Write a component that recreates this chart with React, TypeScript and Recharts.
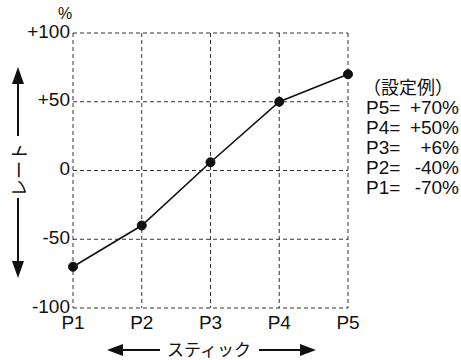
import React from "react";
import { LineChart, Line, XAxis, YAxis, CartesianGrid } from "recharts";

const categories = ["P1", "P2", "P3", "P4", "P5"];
const rates = [-70, -40, 6, 50, 70];
const yTicks = [-100, -50, 0, 50, 100];
const yTickLabels = ["-100", "-50", "0", "+50", "+100"];
const legendTitle = "（設定例）";
const xTitle = "スティック";
const yTitle = "レート";
const unitLabel = "%";

const data = categories.map((c, i) => ({ name: c, rate: rates[i] }));

const FONT = "'Liberation Sans', Arial, Helvetica, sans-serif";
const JP = "'Noto Sans CJK JP', sans-serif";

const fmtVal = (v: number) => (v > 0 ? "+" + v : String(v)) + "%";

export default function App() {
  return (
    <div style={{ position: "absolute", left: 0, top: 0, width: 461, height: 360, background: "#fff" }}>
      <LineChart
        width={461}
        height={360}
        data={data}
        margin={{ top: 33, right: 113, bottom: 22, left: 0 }}
      >
        <CartesianGrid strokeDasharray="4 3" stroke="#333" strokeWidth={1} />
        <XAxis
          dataKey="name"
          height={30}
          axisLine={false}
          tickLine={false}
          tickSize={0}
          tickMargin={8}
          interval={0}
          tick={{ fill: "#111", fontSize: 19, fontFamily: FONT }}
        />
        <YAxis
          type="number"
          domain={[-100, 100]}
          ticks={yTicks}
          width={73}
          axisLine={false}
          tickLine={false}
          tickSize={0}
          tickMargin={3}
          interval={0}
          tickFormatter={(v: number) => yTickLabels[yTicks.indexOf(v)]}
          tick={{ fill: "#111", fontSize: 19, fontFamily: FONT, dy: -2 }}
        />
        <Line
          type="linear"
          dataKey="rate"
          stroke="#111"
          strokeWidth={1.6}
          dot={{ r: 4.5, fill: "#111", stroke: "#111", strokeWidth: 1 }}
          isAnimationActive={false}
        />
      </LineChart>
      <svg
        width={461}
        height={360}
        style={{ position: "absolute", left: 0, top: 0, pointerEvents: "none" }}
      >
        <text x={65} y={19} textAnchor="middle" fontSize={16} fontFamily={FONT} fill="#111">
          {unitLabel}
        </text>
        <text x={363} y={94} fontSize={18} fontFamily={JP} fill="#111">
          {legendTitle}
        </text>
        {categories
          .map((c, i) => ({ c, v: rates[i] }))
          .reverse()
          .map((d, k) => (
            <g key={d.c}>
              <text x={366} y={114 + k * 20} fontSize={19} fontFamily={FONT} fill="#111">
                {d.c + "="}
              </text>
              <text x={459} y={114 + k * 20} textAnchor="end" fontSize={19} fontFamily={FONT} fill="#111">
                {fmtVal(d.v)}
              </text>
            </g>
          ))}
        {/* bottom arrows */}
        <line x1={118} y1={350} x2={160} y2={350} stroke="#111" strokeWidth={2} />
        <polygon points="107,350 123,344 123,356" fill="#111" />
        <text
          x={209}
          y={348}
          textAnchor="middle"
          dominantBaseline="central"
          fontSize={17}
          fontFamily={JP}
          fill="#111"
        >
          {xTitle}
        </text>
        <line x1={259} y1={350} x2={305} y2={350} stroke="#111" strokeWidth={2} />
        <polygon points="316,350 300,344 300,356" fill="#111" />
        {/* vertical arrows */}
        <line x1={18} y1={78} x2={18} y2={136} stroke="#111" strokeWidth={2} />
        <polygon points="18,67 12,84 24,84" fill="#111" />
        <line x1={18} y1={198} x2={18} y2={268} stroke="#111" strokeWidth={2} />
        <polygon points="18,278 12,261 24,261" fill="#111" />
        <text
          x={18}
          y={170}
          textAnchor="middle"
          dominantBaseline="central"
          fontSize={18}
          fontFamily={JP}
          fill="#111"
          transform="rotate(-90 18 170)"
        >
          {yTitle}
        </text>
      </svg>
    </div>
  );
}
